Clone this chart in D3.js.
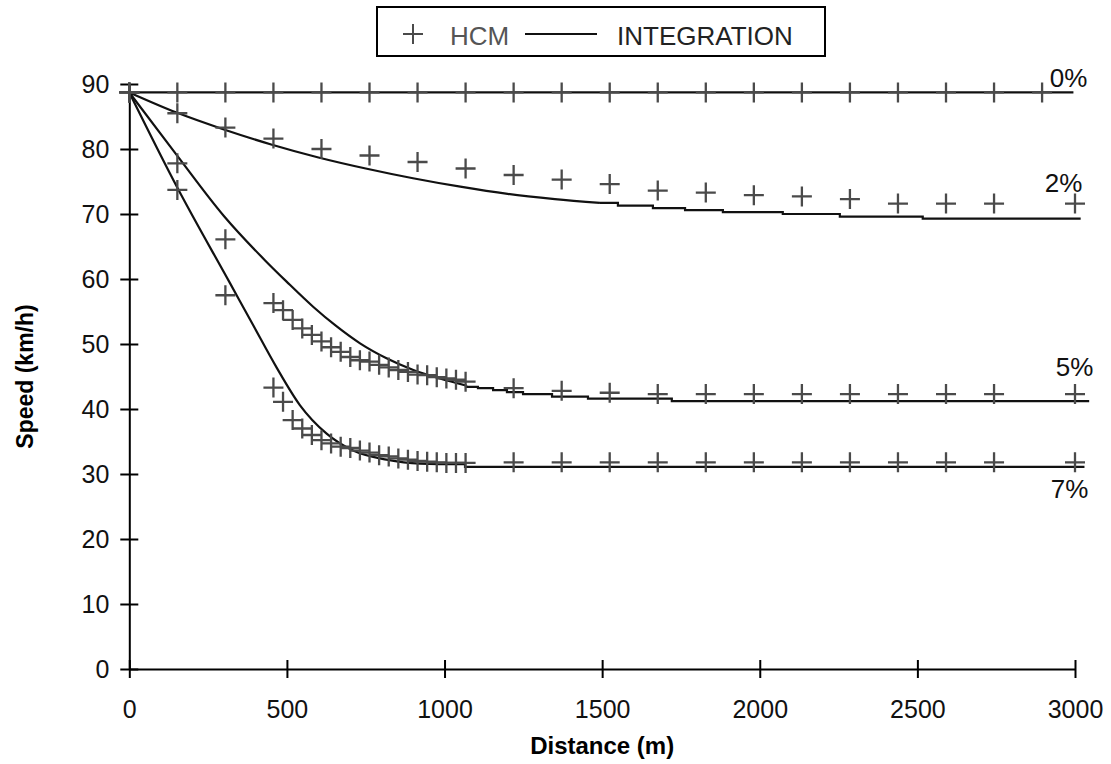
<!DOCTYPE html>
<html>
<head>
<meta charset="utf-8">
<script src="https://cdn.jsdelivr.net/npm/d3@7"></script>
<style>
  body { margin: 0; background: #fff; }
  text { font-family: "Liberation Sans", Arial, sans-serif; }
</style>
</head>
<body>
<script>
// HCM points (distance m, speed km/h)
var hcmDist0 = [0, 152.4, 304.8, 457.2, 609.6, 762, 914.4, 1066.8, 1219.2, 1371.6, 1524, 1676.4, 1828.8, 1981.2, 2133.6, 2286, 2438.4, 2590.8, 2743.2, 2895.6];
var hcm0 = [88.7, 88.7, 88.7, 88.7, 88.7, 88.7, 88.7, 88.7, 88.7, 88.7, 88.7, 88.7, 88.7, 88.7, 88.7, 88.7, 88.7, 88.7, 88.7, 88.7];

var hcmDist2 = [0, 152.4, 304.8, 457.2, 609.6, 762, 914.4, 1066.8, 1219.2, 1371.6, 1524, 1676.4, 1828.8, 1981.2, 2133.6, 2286, 2438.4, 2590.8, 2743.2, 3000];
var hcm2 = [88.7, 85.5, 83.3, 81.6, 80.0, 79.0, 78.0, 77.0, 76.0, 75.3, 74.6, 73.6, 73.3, 72.9, 72.7, 72.3, 71.6, 71.6, 71.6, 71.6];

var hcmDist57 = [0, 152.4, 304.8,
  457.2, 487.68, 518.16, 548.64, 579.12, 609.6, 640.08, 670.56, 701.04, 731.52, 762,
  792.48, 822.96, 853.44, 883.92, 914.4, 944.88, 975.36, 1005.84, 1036.32, 1066.8,
  1219.2, 1371.6, 1524, 1676.4, 1828.8, 1981.2, 2133.6, 2286, 2438.4, 2590.8, 2743.2, 3000];
var hcm5 = [88.7, 77.8, 66.1,
  56.3, 55.2, 53.7, 52.4, 51.4, 50.4, 49.5, 48.8, 48.0, 47.5, 47.3,
  46.8, 46.4, 46.0, 45.7, 45.3, 45.2, 44.9, 44.7, 44.5, 44.2,
  43.2, 42.8, 42.5, 42.3, 42.3, 42.3, 42.3, 42.3, 42.3, 42.3, 42.3, 42.3];
var hcm7 = [88.7, 73.7, 57.5,
  43.3, 41.1, 38.3, 37.0, 36.0, 35.2, 34.7, 34.2, 34.0, 33.6, 33.3,
  32.9, 32.7, 32.4, 32.2, 32.0, 31.9, 31.8, 31.7, 31.7, 31.7,
  31.8, 31.8, 31.8, 31.8, 31.8, 31.8, 31.8, 31.8, 31.8, 31.8, 31.8, 31.8];

// integration curves [distance, speed]: smooth part, then stepped part
var int0 = [[0, 88.7], [2995, 88.7]];
var int0Steps = [];
var int2 = [[0, 88.7], [150, 85.6], [300, 83.0], [450, 80.7], [600, 78.7], [750, 77.0], [900, 75.5],
  [1050, 74.2], [1200, 73.1], [1350, 72.3], [1493, 71.7]];
var int2Steps = [[1493, 71.7], [1550, 71.7], [1550, 71.3], [1661, 71.3],
  [1661, 70.9], [1763, 70.9], [1763, 70.6], [1883, 70.6], [1883, 70.3], [2073, 70.3], [2073, 70.0],
  [2254, 70.0], [2254, 69.6], [2517, 69.6], [2517, 69.3], [3018, 69.3]];
var int5 = [[0, 88.7], [150, 79.1], [300, 69.7], [430, 62.9], [499, 59.6], [584, 55.7], [658, 52.7],
  [732, 50.1], [816, 47.8], [901, 46.0], [985, 44.7], [1070, 43.6]];
var int5Steps = [[1070, 43.6], [1070, 43.4], [1106, 43.4], [1106, 43.2], [1154, 43.2], [1154, 42.9],
  [1198, 42.9], [1198, 42.6], [1249, 42.6], [1249, 42.3], [1341, 42.3], [1341, 41.9], [1455, 41.9],
  [1455, 41.6], [1721, 41.6], [1721, 41.2], [3045, 41.2]];
var int7 = [[0, 88.7], [153, 74.0], [319, 59.4], [394, 52.8], [467, 46.4], [541, 40.6],
  [626, 36.2], [710, 33.6], [816, 32.2], [922, 31.6], [1065, 31.5]];
var int7Steps = [[1065, 31.5], [1065, 31.1], [3030, 31.1]];

var gradeLabels = ["0%", "2%", "5%", "7%"];
var xTicks = [0, 500, 1000, 1500, 2000, 2500, 3000];
var yTicks = [0, 10, 20, 30, 40, 50, 60, 70, 80, 90];

var width = 1111, height = 764;
var svg = d3.select("body").append("svg")
    .attr("width", width)
    .attr("height", height);

svg.append("rect").attr("width", width).attr("height", height).attr("fill", "#fff");

var x = d3.scaleLinear().domain([0, 3000]).range([129.3, 1075]);
var y = d3.scaleLinear().domain([0, 90]).range([669, 84]);

// axes
var xAxis = svg.append("g")
    .attr("transform", "translate(0," + y(0) + ")")
    .call(d3.axisBottom(x).tickValues(xTicks).tickFormat(d3.format("d"))
      .tickSizeInner(9).tickSizeOuter(0).tickPadding(22));
xAxis.selectAll(".tick line").attr("y1", -9);

var yAxis = svg.append("g")
    .attr("transform", "translate(" + x(0) + ",0)")
    .call(d3.axisLeft(y).tickValues(yTicks).tickFormat(d3.format("d"))
      .tickSizeInner(9).tickSizeOuter(0).tickPadding(11));
yAxis.selectAll(".tick line").attr("x1", 9);

svg.selectAll(".domain, .tick line").attr("stroke", "#000").attr("stroke-width", 2);
svg.selectAll(".tick text")
    .attr("font-size", 25)
    .attr("font-family", "Liberation Sans, Arial, sans-serif")
    .attr("fill", "#111");

svg.append("text")
    .attr("transform", "translate(33," + ((y(0) + y(90)) / 2) + ") rotate(-90)")
    .attr("text-anchor", "middle")
    .attr("font-size", 23)
    .attr("font-weight", "bold")
    .text("Speed (km/h)");

svg.append("text")
    .attr("x", (x(0) + x(3000)) / 2)
    .attr("y", 754)
    .attr("text-anchor", "middle")
    .attr("font-size", 24)
    .attr("font-weight", "bold")
    .text("Distance (m)");

// integration lines
var smooth = d3.line()
    .x(function(d) { return x(d[0]); })
    .y(function(d) { return y(d[1]); })
    .curve(d3.curveMonotoneX);
var steps = d3.line()
    .x(function(d) { return x(d[0]); })
    .y(function(d) { return y(d[1]); });

[[int0, int0Steps], [int2, int2Steps], [int5, int5Steps], [int7, int7Steps]].forEach(function(s) {
  svg.append("path")
      .datum(s[0])
      .attr("fill", "none")
      .attr("stroke", "#111")
      .attr("stroke-width", 2.2)
      .attr("d", smooth);
  if (s[1].length) {
    svg.append("path")
        .datum(s[1])
        .attr("fill", "none")
        .attr("stroke", "#111")
        .attr("stroke-width", 2.2)
        .attr("d", steps);
  }
});

// HCM crosses
var cross = "M-10,0H10M0,-10V10";
function drawCrosses(dist, vals) {
  svg.append("g").selectAll("path")
      .data(dist.map(function(d, i) { return [d, vals[i]]; }))
      .enter().append("path")
      .attr("transform", function(d) { return "translate(" + x(d[0]) + "," + y(d[1]) + ")"; })
      .attr("d", cross)
      .attr("fill", "none")
      .attr("stroke", "#4a4a4a")
      .attr("stroke-width", 2.3);
}
drawCrosses(hcmDist0, hcm0);
drawCrosses(hcmDist2, hcm2);
drawCrosses(hcmDist57, hcm5);
drawCrosses(hcmDist57, hcm7);

// grade labels (position in data units + pixel offset)
var labelPos = [[2920, 88.7, -5.5], [2904, 71.6, -11.6], [2939, 42.3, -18], [2923, 31.1, 31]];
labelPos.forEach(function(p, i) {
  svg.append("text")
      .attr("x", x(p[0]))
      .attr("y", y(p[1]) + p[2])
      .attr("font-size", 26)
      .attr("fill", "#111")
      .text(gradeLabels[i]);
});

// legend
var lg = svg.append("g");
lg.append("rect")
    .attr("x", 377).attr("y", 7)
    .attr("width", 448).attr("height", 49)
    .attr("fill", "#fff").attr("stroke", "#000").attr("stroke-width", 2);
lg.append("path")
    .attr("transform", "translate(413,34)")
    .attr("d", cross)
    .attr("stroke", "#4a4a4a").attr("stroke-width", 2);
lg.append("text")
    .attr("x", 450).attr("y", 45)
    .attr("font-size", 26).attr("fill", "#555")
    .text("HCM");
lg.append("line")
    .attr("x1", 525).attr("x2", 597).attr("y1", 34).attr("y2", 34)
    .attr("stroke", "#111").attr("stroke-width", 2);
lg.append("text")
    .attr("x", 617).attr("y", 45)
    .attr("font-size", 26).attr("fill", "#222")
    .text("INTEGRATION");
</script>
</body>
</html>
